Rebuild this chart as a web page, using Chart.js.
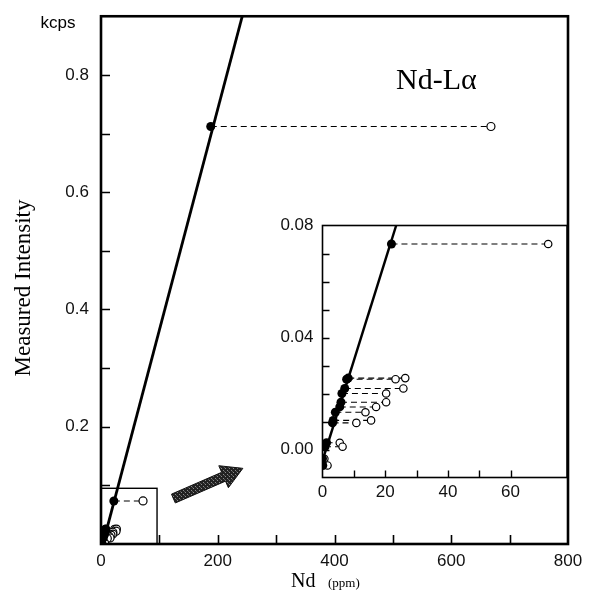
<!DOCTYPE html>
<html>
<head>
<meta charset="utf-8">
<script src="https://cdn.jsdelivr.net/npm/chart.js@4.4.0/dist/chart.umd.min.js"></script>
<style>
    html, body { margin: 0; padding: 0; background: #fff; }
    #wrap { position: relative; width: 591px; height: 603px; }
    #wrap canvas { position: absolute; left: 0; top: 0; }
</style>
</head>
<body>
<div id="wrap">
    <canvas id="mainChart" width="591" height="603"></canvas>
    <canvas id="insetChart" width="591" height="603"></canvas>
</div>
<script>
// solid points (on the calibration line) and their open counterparts, Nd in ppm, intensity in kcps
const solidNd   = [188, 22, 7.7, 8.2, 7.1, 6.2, 5.9, 5.5, 4.1, 3.4, 3.2, 1.3, 0.8, 0.1, 0.0];
const intensity = [0.712, 0.0734, 0.0251, 0.0255, 0.0218, 0.0200, 0.0169, 0.0152, 0.0133, 0.0104, 0.0095, 0.0024, 0.0010, -0.0057, -0.0033];
const openNd    = [668, 72, 23.3, 26.4, 25.8, 20.3, 20.3, 17.1, 13.7, 15.5, 10.8, 5.5, 6.4, 1.6, 0.6];

// calibration lines
const mainLineNd = [0, 242];
const mainLineI = [-0.012, 0.9];
const insetLineNd = [0, 23.5];
const insetLineI = [-0.004, 0.08];

// tick labels
const mainYLabels = ['0.2', '0.4', '0.6', '0.8'];
const mainXLabels = ['0', '200', '400', '600', '800'];
const insetYLabels = ['0.00', '0.04', '0.08'];
const insetXLabels = ['0', '20', '40', '60'];

// zoom box and arrow on the main plot (data units)
const boxNd = [0, 96];
const boxI = [0, 0.095];
const arrowNd = [124, 243];
const arrowI = [0.0775, 0.129];

const SANS = '"Liberation Sans", Arial, sans-serif';
const SERIF = '"Liberation Serif", "Times New Roman", serif';

function xy(xs, ys) {
    return xs.map((x, i) => ({ x: x, y: ys[i] }));
}

function buildDatasets(lineNd, lineI, solidR, openR, lineW) {
    const sets = [
        {
            data: xy(solidNd, intensity),
            pointRadius: solidR,
            pointBackgroundColor: '#000',
            pointBorderColor: '#000',
            pointBorderWidth: 0
        },
        {
            data: xy(openNd, intensity),
            pointRadius: openR,
            pointBackgroundColor: '#fff',
            pointBorderColor: '#000',
            pointBorderWidth: 1.2
        },
        {
            data: xy(lineNd, lineI),
            showLine: true,
            pointRadius: 0,
            borderColor: '#000',
            borderWidth: lineW
        }
    ];
    solidNd.forEach((x, i) => {
        sets.push({
            data: [{ x: x, y: intensity[i] }, { x: openNd[i], y: intensity[i] }],
            showLine: true,
            pointRadius: 0,
            borderColor: '#000',
            borderWidth: 1.1,
            borderDash: [6, 4]
        });
    });
    return sets;
}

// inward tick marks + full frame
const frameTicks = {
    id: 'frameTicks',
    beforeDraw(chart, args, opts) {
        if (!opts.fill) return;
        const a = chart.chartArea;
        chart.ctx.save();
        chart.ctx.fillStyle = '#fff';
        chart.ctx.fillRect(a.left, a.top, a.width, a.height);
        chart.ctx.restore();
    },
    afterDraw(chart, args, opts) {
        const { ctx, chartArea: a, scales: { x, y } } = chart;
        ctx.save();
        ctx.strokeStyle = '#000';
        ctx.lineWidth = opts.tickWidth;
        ctx.beginPath();
        x.ticks.forEach(t => {
            if (t.value <= x.min || t.value >= x.max) return;
            if (Math.abs(t.value / opts.xStep - Math.round(t.value / opts.xStep)) > 1e-6) return;
            const px = Math.round(x.getPixelForValue(t.value)) + 0.5;
            ctx.moveTo(px, a.bottom);
            ctx.lineTo(px, a.bottom - opts.len);
        });
        y.ticks.forEach(t => {
            if (t.value <= y.min + 1e-9 || t.value >= y.max - 1e-9) return;
            const py = Math.round(y.getPixelForValue(t.value)) + 0.5;
            ctx.moveTo(a.left, py);
            ctx.lineTo(a.left + opts.len, py);
        });
        ctx.stroke();
        ctx.lineWidth = opts.frameWidth;
        ctx.strokeRect(a.left, a.top, a.width, a.height);
        ctx.restore();
    }
};

// extra marks and texts of the main plot
const decor = {
    id: 'decor',
    afterDraw(chart) {
        const { ctx, chartArea: a, scales: { x, y } } = chart;
        ctx.save();

        // zoom box
        ctx.strokeStyle = '#000';
        ctx.lineWidth = 1.4;
        const bx0 = x.getPixelForValue(boxNd[0]), bx1 = x.getPixelForValue(boxNd[1]);
        const by0 = y.getPixelForValue(boxI[0]), by1 = y.getPixelForValue(boxI[1]);
        ctx.strokeRect(bx0, by1, bx1 - bx0, by0 - by1);

        // hatched arrow
        const tx = x.getPixelForValue(arrowNd[0]), ty = y.getPixelForValue(arrowI[0]);
        const hx = x.getPixelForValue(arrowNd[1]), hy = y.getPixelForValue(arrowI[1]);
        const len = Math.hypot(hx - tx, hy - ty);
        const ux = (hx - tx) / len, uy = (hy - ty) / len;
        const nx = -uy, ny = ux;
        const sw = 4.8, hw = 12, hl = 21;
        const bxp = hx - ux * hl, byp = hy - uy * hl;
        const pts = [
            [tx + nx * sw, ty + ny * sw],
            [bxp + nx * sw, byp + ny * sw],
            [bxp + nx * hw, byp + ny * hw],
            [hx, hy],
            [bxp - nx * hw, byp - ny * hw],
            [bxp - nx * sw, byp - ny * sw],
            [tx - nx * sw, ty - ny * sw]
        ];
        const tile = document.createElement('canvas');
        tile.width = 4; tile.height = 4;
        const tc = tile.getContext('2d');
        tc.fillStyle = '#222';
        tc.fillRect(0, 0, 4, 4);
        tc.fillStyle = '#8a8a8a';
        tc.fillRect(1, 0, 1, 1);
        tc.fillRect(3, 2, 1, 1);
        tc.fillStyle = '#555';
        tc.fillRect(0, 3, 1, 1);
        ctx.beginPath();
        pts.forEach((p, i) => i ? ctx.lineTo(p[0], p[1]) : ctx.moveTo(p[0], p[1]));
        ctx.closePath();
        ctx.fillStyle = ctx.createPattern(tile, 'repeat');
        ctx.fill();
        ctx.strokeStyle = '#111';
        ctx.lineWidth = 1;
        ctx.stroke();

        // texts
        ctx.fillStyle = '#000';
        ctx.font = '17px ' + SANS;
        ctx.textAlign = 'center';
        ctx.textBaseline = 'middle';
        ctx.fillText('kcps', a.left - 43, a.top + 7);

        ctx.font = '30px ' + SERIF;
        ctx.textAlign = 'left';
        ctx.textBaseline = 'alphabetic';
        ctx.fillText('Nd-L\u03b1', 396, 89);

        ctx.font = '20px ' + SERIF;
        ctx.fillText('Nd', 291, 587);
        ctx.font = '13px ' + SERIF;
        ctx.fillText('(ppm)', 328, 587);

        ctx.translate(24, 288);
        ctx.rotate(-Math.PI / 2);
        ctx.font = '23px ' + SERIF;
        ctx.textAlign = 'center';
        ctx.textBaseline = 'middle';
        ctx.fillText('Measured Intensity', 0, 0);
        ctx.restore();
    }
};

function fmt(labels, digits) {
    return function (value) {
        const s = value.toFixed(digits);
        return labels.includes(s) ? s : '';
    };
}

new Chart(document.getElementById('mainChart'), {
    type: 'scatter',
    data: { datasets: buildDatasets(mainLineNd, mainLineI, 4.5, 4, 2.8) },
    plugins: [frameTicks, decor],
    options: {
        responsive: false,
        animation: false,
        events: [],
        layout: { padding: { left: 41, top: 10, right: 23, bottom: 19 } },
        plugins: {
            legend: { display: false },
            tooltip: { enabled: false },
            frameTicks: { len: 9, tickWidth: 1.6, frameWidth: 2.6, xStep: 100, fill: false }
        },
        scales: {
            x: {
                type: 'linear',
                min: 0,
                max: 800,
                grid: { display: false, drawTicks: false },
                border: { display: false },
                afterFit(scale) { scale.height = 40; },
                ticks: {
                    stepSize: 100,
                    padding: 7,
                    color: '#111',
                    font: { family: SANS, size: 17 },
                    maxRotation: 0,
                    autoSkip: false,
                    callback: fmt(mainXLabels, 0)
                }
            },
            y: {
                type: 'linear',
                min: 0,
                max: 0.9,
                grid: { display: false, drawTicks: false },
                border: { display: false },
                afterFit(scale) { scale.width = 60; },
                ticks: {
                    stepSize: 0.1,
                    padding: 12,
                    color: '#111',
                    font: { family: SANS, size: 17, lineHeight: 0.5 },
                    autoSkip: false,
                    callback: fmt(mainYLabels, 1)
                }
            }
        }
    }
});

new Chart(document.getElementById('insetChart'), {
    type: 'scatter',
    data: { datasets: buildDatasets(insetLineNd, insetLineI, 4.5, 3.7, 2.5) },
    plugins: [frameTicks],
    options: {
        responsive: false,
        animation: false,
        events: [],
        layout: { padding: { left: 272.5, top: 225.5, right: 24, bottom: 95.5 } },
        plugins: {
            legend: { display: false },
            tooltip: { enabled: false },
            frameTicks: { len: 7, tickWidth: 1.4, frameWidth: 1.6, xStep: 10, fill: true }
        },
        scales: {
            x: {
                type: 'linear',
                min: 0,
                max: 78,
                grid: { display: false, drawTicks: false },
                border: { display: false },
                afterFit(scale) { scale.height = 30; },
                ticks: {
                    stepSize: 10,
                    padding: 5,
                    color: '#111',
                    font: { family: SANS, size: 17 },
                    maxRotation: 0,
                    autoSkip: false,
                    callback: fmt(insetXLabels, 0)
                }
            },
            y: {
                type: 'linear',
                min: -0.01,
                max: 0.08,
                grid: { display: false, drawTicks: false },
                border: { display: false },
                afterFit(scale) { scale.width = 50; },
                ticks: {
                    stepSize: 0.01,
                    padding: 9,
                    color: '#111',
                    font: { family: SANS, size: 17 },
                    autoSkip: false,
                    callback: fmt(insetYLabels, 2)
                }
            }
        }
    }
});
</script>
</body>
</html>
